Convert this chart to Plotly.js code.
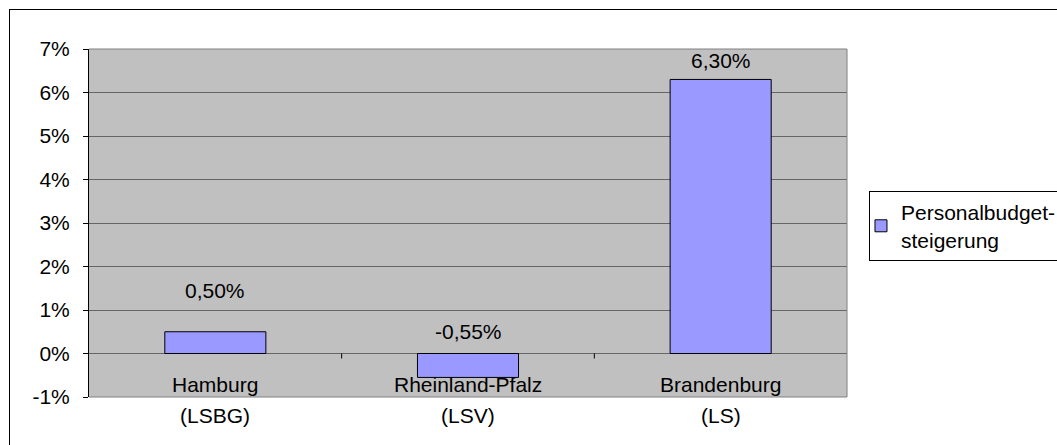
<!DOCTYPE html>
<html>
<head>
<meta charset="utf-8">
<script src="https://cdn.plot.ly/plotly-3.0.1.min.js"></script>
<style>
  html, body { margin: 0; padding: 0; background: #fff; }
  #wrap { position: relative; width: 1057px; height: 445px; overflow: hidden; }
  #chart { position: absolute; left: 0; top: 0; width: 1057px; height: 445px; }
  #frame { position: absolute; left: 9px; top: 9px; width: 1200px; height: 600px;
           border-top: 1px solid #000; border-left: 1px solid #000; pointer-events: none; }
</style>
</head>
<body>
<div id="wrap">
  <div id="chart"></div>
  <div id="frame"></div>
</div>
<script>
// Personalbudgetsteigerung je Landesbetrieb
const categories = ['Hamburg', 'Rheinland-Pfalz', 'Brandenburg'];
const subLabels = ['(LSBG)', '(LSV)', '(LS)'];
const values = [0.005, -0.0055, 0.063];
const seriesName = 'Personalbudget-<br>steigerung';
const yTickValues = [-0.01, 0, 0.01, 0.02, 0.03, 0.04, 0.05, 0.06, 0.07];
const yTickLabels = ['-1%', '0%', '1%', '2%', '3%', '4%', '5%', '6%', '7%'];

// distance (px) of each value label above the bar top / zero line
const labelLift = [41, 22, 19];

const FONT = 'Liberation Sans, Arial, sans-serif';
const FS = 21;

function fmtPct(v) {
  return (v * 100).toFixed(2).replace('.', ',') + '%';
}

const annotations = [];
categories.forEach((c, i) => {
  const v = values[i];
  annotations.push({
    x: c, y: Math.max(v, 0), xref: 'x', yref: 'y',
    text: fmtPct(v), showarrow: false,
    yanchor: 'middle', yshift: labelLift[i],
    font: { family: FONT, size: FS, color: '#000' }
  });
  annotations.push({
    x: c, y: 0, xref: 'x', yref: 'y',
    text: c, showarrow: false,
    yanchor: 'middle', yshift: -31,
    font: { family: FONT, size: FS, color: '#000' }
  });
  annotations.push({
    x: c, y: 0, xref: 'x', yref: 'y',
    text: subLabels[i], showarrow: false,
    yanchor: 'middle', yshift: -62,
    font: { family: FONT, size: FS, color: '#000' }
  });
});

// plot-area border (top, right, bottom) and category tick marks on the zero line
const shapes = [
  { type: 'line', xref: 'paper', yref: 'paper', x0: 0, x1: 1, y0: 1, y1: 1, line: { color: '#808080', width: 1 } },
  { type: 'line', xref: 'paper', yref: 'paper', x0: 1, x1: 1, y0: 0, y1: 1, line: { color: '#808080', width: 1 } },
  { type: 'line', xref: 'paper', yref: 'paper', x0: 0, x1: 1, y0: 0, y1: 0, line: { color: '#808080', width: 1 } }
];
[0.5, 1.5].forEach(b => {
  shapes.push({ type: 'line', xref: 'x', yref: 'y', x0: b, x1: b,
    ysizemode: 'pixel', yanchor: 0, y0: 0, y1: -5, line: { color: '#000', width: 1 } });
});

const trace = {
  type: 'bar',
  x: categories,
  y: values,
  name: seriesName,
  marker: { color: '#9999FF', line: { color: '#000', width: 1 } },
  hoverinfo: 'skip',
  cliponaxis: false
};

const layout = {
  width: 1057, height: 445,
  margin: { l: 89, r: 210, t: 49, b: 48, autoexpand: false },
  paper_bgcolor: 'rgba(0,0,0,0)',
  plot_bgcolor: '#C0C0C0',
  font: { family: FONT, size: FS, color: '#000' },
  bargap: 0.6,
  showlegend: true,
  legend: {
    x: 1.029, xanchor: 'left', y: 0.592, yanchor: 'top',
    indentation: -9,
    bgcolor: '#fff', bordercolor: '#000', borderwidth: 1,
    font: { family: FONT, size: FS, color: '#000' }
  },
  xaxis: {
    type: 'category', range: [-0.5, 2.5],
    showticklabels: false, ticks: '', showgrid: false, showline: false, zeroline: false,
    fixedrange: true
  },
  yaxis: {
    range: [-0.01, 0.07],
    tickvals: yTickValues, ticktext: yTickLabels,
    ticks: 'outside', ticklen: 5, tickcolor: '#000', tickwidth: 1,
    ticklabelstandoff: 9,
    showline: true, linecolor: '#000', linewidth: 1,
    showgrid: true, gridcolor: '#666666', gridwidth: 1,
    zeroline: true, zerolinecolor: '#666666', zerolinewidth: 1,
    tickfont: { family: FONT, size: FS, color: '#000' },
    fixedrange: true
  },
  annotations: annotations,
  shapes: shapes
};

Plotly.newPlot('chart', [trace], layout, { staticPlot: true, displayModeBar: false });
</script>
</body>
</html>
